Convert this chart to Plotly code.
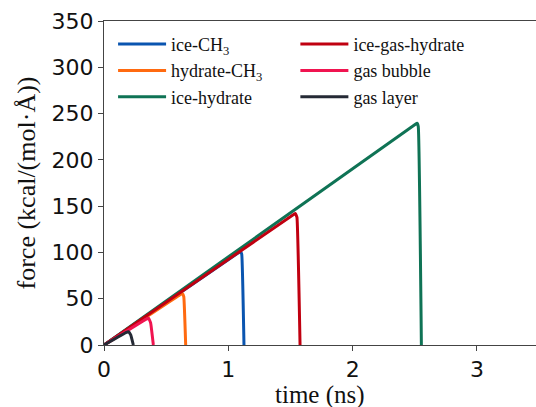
import plotly.graph_objects as go

# time (ns) and force (kcal/(mol·Å)) for each pulling simulation
t_ice_ch3 = [0, 1.085, 1.098, 1.108, 1.126]
f_ice_ch3 = [0, 100.0, 101.0, 98.0, 0]

t_hyd_ch3 = [0, 0.620, 0.632, 0.642, 0.657]
f_hyd_ch3 = [0, 55.0, 55.6, 52.0, 0]

t_ice_hyd = [0, 2.505, 2.518, 2.528, 2.553]
f_ice_hyd = [0, 238.5, 239.5, 236.0, 0]

t_ice_gas_hyd = [0, 1.525, 1.540, 1.552, 1.577]
f_ice_gas_hyd = [0, 141.0, 142.0, 138.0, 0]

t_bubble = [0, 0.340, 0.358, 0.375, 0.397]
f_bubble = [0, 28.0, 29.0, 24.0, 0]

t_layer = [0, 0.180, 0.196, 0.215, 0.236]
f_layer = [0, 13.7, 14.3, 11.0, 0]

names = ["ice-CH<sub>3</sub>", "hydrate-CH<sub>3</sub>", "ice-hydrate",
         "ice-gas-hydrate", "gas bubble", "gas layer"]
colors = ["#0a55b0", "#ff6a10", "#0f7355", "#c00010", "#f01450", "#252a35"]
series = [(t_ice_ch3, f_ice_ch3), (t_hyd_ch3, f_hyd_ch3), (t_ice_hyd, f_ice_hyd),
          (t_ice_gas_hyd, f_ice_gas_hyd), (t_bubble, f_bubble), (t_layer, f_layer)]

x_ticks = [0, 1, 2, 3]
y_ticks = [0, 50, 100, 150, 200, 250, 300, 350]

fig = go.Figure()
for i, ((t, f), n, c) in enumerate(zip(series, names, colors)):
    fig.add_trace(go.Scatter(
        x=t, y=f, mode="lines", name=n,
        line=dict(color=c, width=3, shape="spline", smoothing=0.3),
        legend="legend" if i < 3 else "legend2",
    ))

serif = "Liberation Serif"
axis_common = dict(
    showline=True, linecolor="#444", linewidth=1,
    ticks="outside", ticklen=5, tickcolor="#444", tickwidth=1,
    showgrid=False, zeroline=False, automargin=False,
    tickfont=dict(family="DejaVu Sans", size=22, color="#111"),
)

legend_font = dict(family=serif, size=18, color="#111")

fig.update_layout(
    width=536, height=407,
    margin=dict(l=104, r=0, t=21, b=62),
    paper_bgcolor="white", plot_bgcolor="white",
    xaxis=dict(range=[0, 3.475], tickvals=x_ticks, mirror=True, **axis_common),
    yaxis=dict(range=[0, 350], tickvals=y_ticks,
               title=dict(text="force (kcal/(mol·Å))", font=dict(family=serif, size=26, color="#111"), standoff=8),
               **axis_common),
    legend=dict(x=0.021, y=0.985, xanchor="left", yanchor="top",
                bgcolor="rgba(0,0,0,0)", font=legend_font,
                itemwidth=48, tracegroupgap=0),
    legend2=dict(x=0.443, y=0.985, xanchor="left", yanchor="top",
                 bgcolor="rgba(0,0,0,0)", font=legend_font,
                 itemwidth=48, tracegroupgap=0),
    showlegend=True,
    annotations=[dict(text="time (ns)", xref="paper", yref="paper", x=0.5, y=-0.155,
                      xanchor="center", yanchor="middle", showarrow=False, borderpad=0,
                      font=dict(family=serif, size=25, color="#111"))],
)

fig.write_html("out.html")
